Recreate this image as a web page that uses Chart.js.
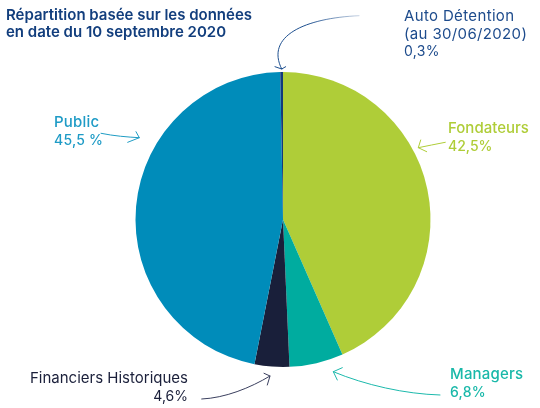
<!DOCTYPE html>
<html lang="fr">
<head>
<meta charset="utf-8">
<title>Répartition</title>
<script src="https://cdn.jsdelivr.net/npm/chart.js@4"></script>
<style>
    html, body { margin: 0; padding: 0; background: #fff; }
    #wrap { position: relative; width: 540px; height: 408px; overflow: hidden; font-family: Inter, "Noto Sans", sans-serif; }
    #chart { position: absolute; left: 0; top: 0; }
    .label { position: absolute; white-space: nowrap; font-size: 15px; line-height: 17.5px; }
    .label span { font-size: 14px; }
</style>
</head>
<body>
<div id="wrap">
    <canvas id="chart" width="540" height="408"></canvas>
    <div class="label" style="left:6px;top:7px;line-height:16.5px;font-weight:600;color:#123e7d">Répartition basée sur les données<br>en date du 10 septembre 2020</div>
    <div class="label" style="left:404px;top:7px;letter-spacing:0.35px;color:#1d4b8c">Auto Détention<br>(au 30/06/2020)<br><span>0,3%</span></div>
    <div class="label" style="left:54px;top:113px;font-weight:500;letter-spacing:0.2px;color:#1e9bc6">Public<br><span>45,5 %</span></div>
    <div class="label" style="left:448px;top:119px;font-weight:500;color:#afcd38">Fondateurs<br><span>42,5%</span></div>
    <div class="label" style="right:352px;top:369px;text-align:right;color:#1a1f3a">Financiers Historiques<br><span>4,6%</span></div>
    <div class="label" style="left:450px;top:365px;font-weight:500;letter-spacing:0.2px;color:#19b8a9">Managers<br><span>6,8%</span></div>
</div>
<script>
    const categories = ['Fondateurs', 'Managers', 'Financiers Historiques', 'Public', 'Auto Détention'];
    const drawnShares = [43.4, 5.9, 3.8, 46.6, 0.3];
    const sliceColors = ['#afcd38', '#00ac9f', '#191f3a', '#008cba', '#123a7c'];

    // flèches annotées : départ, contrôle, pointe, puis les deux branches de la pointe
    const arrows = [
        { color: '#1d4f8f', fade: true, from: [359, 15.7], c1: [305, 18], c2: [265, 36], to: [281.7, 69], head: [[275, 66.7], [285.7, 66.7]] },
        { color: '#1f9cc4', from: [101, 133.3], c1: [114, 136], c2: [127, 137], to: [139.3, 137.7], head: [[136, 131.7], [127.7, 142.3]] },
        { color: '#afcd38', from: [445.3, 142.3], c1: [436, 144], c2: [427, 146], to: [418.3, 147.7], head: [[420.7, 140], [426.7, 151.7]] },
        { color: '#3a3f5e', from: [201.7, 399], c1: [225, 398], c2: [250, 388], to: [270, 376], head: [[264, 373.3], [267.3, 385]] },
        { color: '#1cb9ac', from: [440, 395], c1: [405, 394], c2: [365, 385], to: [333.3, 371.7], head: [[342.3, 367.7], [337.3, 380]] },
    ];

    const arrowPlugin = {
        id: 'arrows',
        afterDraw(chart) {
            const ctx = chart.ctx;
            ctx.save();
            ctx.lineWidth = 1;
            ctx.lineCap = 'round';
            arrows.forEach(a => {
                let stroke = a.color;
                if (a.fade) {
                    stroke = ctx.createLinearGradient(a.from[0], a.from[1], a.to[0], a.to[1]);
                    stroke.addColorStop(0, 'rgba(29, 79, 143, 0.25)');
                    stroke.addColorStop(0.5, a.color);
                    stroke.addColorStop(1, a.color);
                }
                ctx.strokeStyle = stroke;
                ctx.beginPath();
                ctx.moveTo(a.from[0], a.from[1]);
                ctx.bezierCurveTo(a.c1[0], a.c1[1], a.c2[0], a.c2[1], a.to[0], a.to[1]);
                ctx.stroke();
                ctx.beginPath();
                ctx.moveTo(a.head[0][0], a.head[0][1]);
                ctx.lineTo(a.to[0], a.to[1]);
                ctx.lineTo(a.head[1][0], a.head[1][1]);
                ctx.stroke();
            });
            ctx.restore();
        }
    };

    new Chart(document.getElementById('chart'), {
        type: 'pie',
        data: {
            labels: categories,
            datasets: [{ data: drawnShares, backgroundColor: sliceColors, borderWidth: 0 }]
        },
        options: {
            responsive: false,
            animation: false,
            layout: { padding: { left: 135, right: 109, top: 72, bottom: 41 } },
            plugins: { legend: { display: false }, tooltip: { enabled: false } }
        },
        plugins: [arrowPlugin]
    });
</script>
</body>
</html>
